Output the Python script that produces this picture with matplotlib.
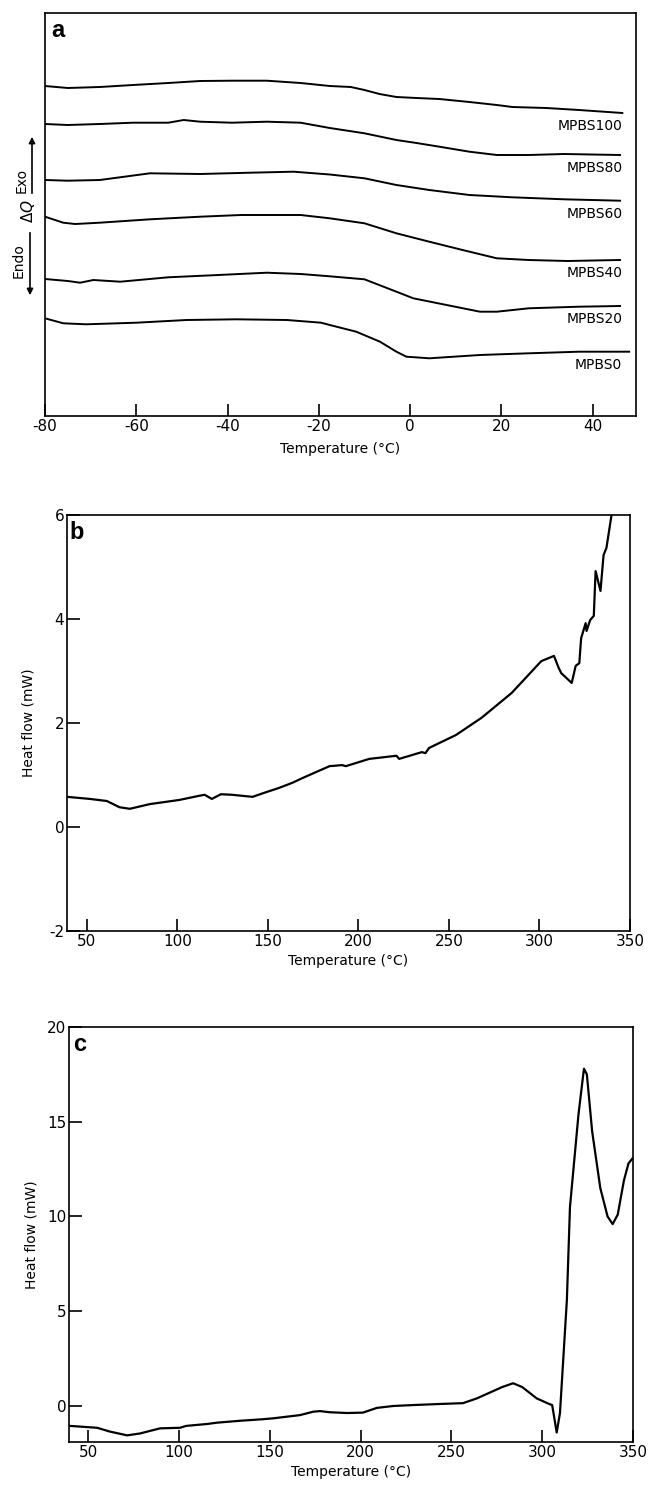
import numpy as np
import matplotlib.pyplot as plt

# ---- panel a: DSC traces (arbitrary offset units) ----
samples = ['MPBS100', 'MPBS80', 'MPBS60', 'MPBS40', 'MPBS20', 'MPBS0']

t_100 = [-80, -75, -68, -60.7, -53, -46, -39, -31.4, -24, -17.6, -13, -10, -6.7, -3, 1.4, 6.4, 13, 19, 22.4, 29.8, 37, 46.5]
q_100 = [330, 328, 329, 331, 333, 335, 335.3, 335.3, 333, 330, 329, 326, 322, 319, 318, 317, 314, 311, 309, 308, 306, 303]

t_80 = [-80, -75, -68, -60.7, -53, -49.6, -46, -39, -31.4, -24, -17.6, -10, -3, 1.4, 6.4, 13, 19, 26, 33.7, 46]
q_80 = [292, 291, 292, 293.3, 293.3, 296, 294.3, 293.3, 294.3, 293.3, 288, 282.7, 276, 273, 269.3, 264.3, 261, 261, 262, 261]

t_60 = [-80, -75, -68, -57, -46, -35, -25.5, -17.6, -10, -3, 4.2, 13, 22.4, 33.7, 46]
q_60 = [236, 235.3, 236, 242.7, 242, 243.3, 244.3, 241.5, 237.7, 231, 226, 221, 218.7, 216.7, 215.3]

t_40 = [-80, -76, -73.4, -68, -57, -46, -37, -24, -17.6, -10, -3, 4.2, 11.5, 19, 26, 34.5, 46]
q_40 = [199.3, 193.3, 192, 193.3, 196.7, 199.3, 201, 201, 197.7, 192.7, 182.7, 174.3, 166, 157.7, 156, 155, 156]

t_20 = [-80, -75, -72.3, -69.4, -63.5, -53, -42, -31.4, -24, -17.6, -10, -3, 0.7, 8, 15.3, 19, 26, 37, 46]
q_20 = [137, 135, 133.3, 136, 134.3, 138.7, 141, 143.3, 142, 139.7, 136.7, 124.3, 117.7, 111, 104.3, 104.3, 107.7, 109.3, 110]

t_0 = [-80, -76, -71, -60, -49, -38, -27, -19.5, -17.6, -11.8, -6.6, -3, -0.8, 4.2, 15.3, 26, 37, 48]
q_0 = [97.7, 92.7, 91.7, 93.3, 96, 96.7, 96, 93.3, 91, 84.3, 74.3, 64.3, 59.3, 57.7, 61, 62.7, 64.3, 64.3]

# ---- panel b ----
t_b = [39, 51.6, 61, 68, 73.7, 84.7, 101, 112, 115, 119, 124, 130, 141.5, 149, 156, 163.5, 169,
       184, 191, 193, 206, 221, 222.5, 235, 237, 239, 253.9, 268, 284.7, 301, 308, 310.6, 312,
       317.8, 320, 322, 323, 325.5, 326, 328, 330, 331, 333.7, 335.4, 337, 339.8, 341]
hf_b = [0.58, 0.54, 0.5, 0.38, 0.35, 0.44, 0.52, 0.6, 0.62, 0.54, 0.63, 0.62, 0.58, 0.67, 0.75, 0.85, 0.94,
        1.17, 1.19, 1.17, 1.31, 1.37, 1.31, 1.44, 1.42, 1.52, 1.77, 2.1, 2.58, 3.19, 3.29, 3.06, 2.96,
        2.77, 3.1, 3.15, 3.63, 3.92, 3.77, 3.98, 4.06, 4.92, 4.54, 5.23, 5.37, 6.0, 6.3]

# ---- panel c ----
t_c = [40, 55, 62, 71.5, 78.6, 89.6, 100.6, 104, 115.5, 121, 133.6, 146, 152, 166.7, 174, 177.7, 183,
       192.5, 201.3, 209, 218, 229, 242, 256.4, 264, 271, 278, 284, 289, 297, 304, 305.5, 308,
       309.8, 313.6, 315.3, 320, 323, 324.6, 327.5, 332, 336, 338.8, 341.6, 345, 347.5, 349.6]
hf_c = [-1.05, -1.15, -1.35, -1.55, -1.45, -1.18, -1.15, -1.05, -0.95, -0.88, -0.78, -0.7, -0.65, -0.48, -0.3, -0.27, -0.33,
        -0.37, -0.35, -0.1, 0.0, 0.05, 0.1, 0.15, 0.4, 0.7, 1.0, 1.2, 1.0, 0.4, 0.1, 0.05, -1.4,
        -0.37, 5.6, 10.5, 15.4, 17.8, 17.5, 14.5, 11.5, 10.0, 9.6, 10.1, 11.9, 12.8, 13.05]

W, H = 654, 1489


def fx(px):
    return px / W


def fy(py):
    return 1 - py / H


plt.rcParams['font.family'] = 'DejaVu Sans'
plt.rcParams['axes.unicode_minus'] = False
fig = plt.figure(figsize=(W / 100, H / 100), dpi=100)

ax_a = fig.add_axes([fx(45), fy(416), fx(636) - fx(45), fy(13) - fy(416)])
ax_b = fig.add_axes([fx(67), fy(931), fx(630) - fx(67), fy(515) - fy(931)])
ax_c = fig.add_axes([fx(69), fy(1442), fx(633) - fx(69), fy(1027) - fy(1442)])

for ax in (ax_a, ax_b, ax_c):
    for s in ax.spines.values():
        s.set_linewidth(1.2)
    ax.tick_params(direction='in', length=9, width=1.2, labelsize=11, pad=2,
                   top=False, right=False)

# panel a
traces = [(t_100, q_100), (t_80, q_80), (t_60, q_60), (t_40, q_40), (t_20, q_20), (t_0, q_0)]
for name, (t, q) in zip(samples, traces):
    ax_a.plot(t, q, color='black', lw=1.4)
    ax_a.annotate(name, xy=(46.5, q[-1]), xytext=(0, -9.5), textcoords='offset points',
                  ha='right', va='center', fontsize=10)
ax_a.set_xlim(-80, 49.5)
ax_a.set_ylim(0, 403)
ax_a.set_xticks(np.arange(-80, 41, 20))
ax_a.set_yticks([])
ax_a.set_xlabel('Temperature (°C)', fontsize=10, labelpad=6)
ax_a.text(0.01, 0.985, 'a', transform=ax_a.transAxes, fontsize=17, fontweight='bold',
          family='Liberation Sans', va='top', ha='left')

# Endo / Delta Q / Exo label
fig.text(fx(22), fy(180), 'Exo', rotation=90, ha='center', va='center', fontsize=10)
fig.text(fx(28), fy(211), r'$\Delta Q$', rotation=90, ha='center', va='center', fontsize=11)
fig.text(fx(19), fy(261), 'Endo', rotation=90, ha='center', va='center', fontsize=10)
fig.add_artist(plt.matplotlib.patches.FancyArrowPatch(
    (fx(32), fy(196)), (fx(32), fy(134)), transform=fig.transFigure,
    arrowstyle='-|>', mutation_scale=9, lw=1.2, color='black'))
fig.add_artist(plt.matplotlib.patches.FancyArrowPatch(
    (fx(30), fy(230)), (fx(30), fy(298)), transform=fig.transFigure,
    arrowstyle='-|>', mutation_scale=9, lw=1.2, color='black'))

# panel b
ax_b.plot(t_b, hf_b, color='black', lw=1.6)
ax_b.set_xlim(39, 350)
ax_b.set_ylim(-2, 6)
ax_b.set_xticks(np.arange(50, 351, 50))
ax_b.set_yticks(np.arange(-2, 7, 2))
ax_b.set_xlabel('Temperature (°C)', fontsize=10, labelpad=4)
ax_b.set_ylabel('Heat flow (mW)', fontsize=10, labelpad=10)
ax_b.text(0.005, 0.985, 'b', transform=ax_b.transAxes, fontsize=17, fontweight='bold',
          family='Liberation Sans', va='top', ha='left')

# panel c
ax_c.plot(t_c, hf_c, color='black', lw=1.6)
ax_c.set_xlim(39.5, 350)
ax_c.set_ylim(-1.9, 20)
ax_c.set_xticks(np.arange(50, 351, 50))
ax_c.set_yticks(np.arange(0, 21, 5))
ax_c.set_xlabel('Temperature (°C)', fontsize=10, labelpad=4)
ax_c.set_ylabel('Heat flow (mW)', fontsize=10, labelpad=6)
ax_c.text(0.008, 0.985, 'c', transform=ax_c.transAxes, fontsize=17, fontweight='bold',
          family='Liberation Sans', va='top', ha='left')

fig.savefig('out.png', dpi=100)
